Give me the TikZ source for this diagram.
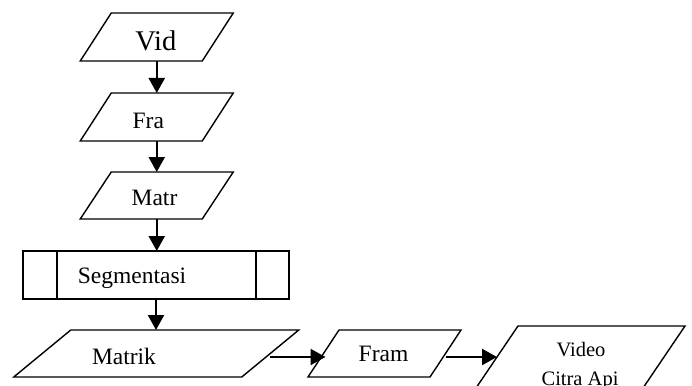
\documentclass[tikz,border=0pt]{standalone}
\usepackage{fontspec}
\setmainfont{Liberation Serif}
\usetikzlibrary{arrows.meta}
\newcommand\paraframe[2]{% name, skew
  \draw[shapeline] ([xshift=#2/2]#1.north west) -- ([xshift=#2/2]#1.north east)
    -- ([xshift=-#2/2]#1.south east) -- ([xshift=-#2/2]#1.south west) -- cycle;}
\begin{document}
\begin{tikzpicture}[x=1pt,y=-1pt,
  frame/.style={inner sep=0pt,outer sep=0pt,draw=none},
  shapeline/.style={line width=1.4pt,line join=miter},
  flow/.style={line width=2.2pt,-{Triangle[width=16pt,length=15pt]}},
  lbl/.style={anchor=base,inner sep=0pt,font=\fontsize{23.5}{28}\selectfont},
]
\clip (0,0) rectangle (692,385);
\useasboundingbox (0,0) rectangle (692,385);
\fill[white] (0,0) rectangle (692,385);

% shape frames
\node[frame,minimum width=122pt,minimum height=48pt] (vid) at (156.75,37) {};
\node[frame,minimum width=122pt,minimum height=48pt] (fra) at (156.75,117) {};
\node[frame,minimum width=122pt,minimum height=47pt] (matr) at (156.75,195.5) {};
\node[frame,minimum width=266pt,minimum height=48pt] (seg) at (156,275) {};
\node[frame,minimum width=228pt,minimum height=47pt] (matrik) at (156.25,353.5) {};
\node[frame,minimum width=122pt,minimum height=47pt] (fram) at (384.5,353.5) {};
\node[frame,minimum width=167pt,minimum height=62pt] (video) at (580.5,357) {};

\paraframe{vid}{31}
\paraframe{fra}{31}
\paraframe{matr}{31}
\draw[shapeline] (seg.north west) rectangle (seg.south east);
\draw[shapeline] ([xshift=34pt]seg.north west) -- ([xshift=34pt]seg.south west);
\draw[shapeline] ([xshift=-33pt]seg.north east) -- ([xshift=-33pt]seg.south east);
\paraframe{matrik}{57}
\paraframe{fram}{31}
\paraframe{video}{42}

% texts
\node[lbl,font=\fontsize{28.5}{32}\selectfont] (tvid) at (155.8,50.7) {Vid};
\node[lbl] (tfra) at (148.3,128) {Fra};
\node[lbl] (tmatr) at (154.5,205) {Matr};
\node[lbl] (tseg) at (132,283) {Segmentasi};
\node[lbl] (tmatrik) at (124,364) {Matrik};
\node[lbl] (tfram) at (383.5,361.7) {Fram};
\node[lbl,font=\fontsize{20.5}{24}\selectfont] (tvideo) at (581,356) {Video};
\node[lbl,font=\fontsize{20.5}{24}\selectfont] (tcitra) at (580,385.6) {Citra Api};

% connectors
\draw[flow] (vid.south) -- (fra.north);
\draw[flow] (fra.south) -- (matr.north);
\draw[flow] (matr.south) -- (matr.south |- seg.north);
\draw[flow] (seg.south) -- (seg.south |- matrik.north);
\draw[flow] ([yshift=-3.5pt]matrik.east) -- ([yshift=-3.5pt,xshift=2pt]fram.west);
\draw[flow] ([yshift=-3.5pt]fram.east) -- (video.west);
\end{tikzpicture}
\end{document}
